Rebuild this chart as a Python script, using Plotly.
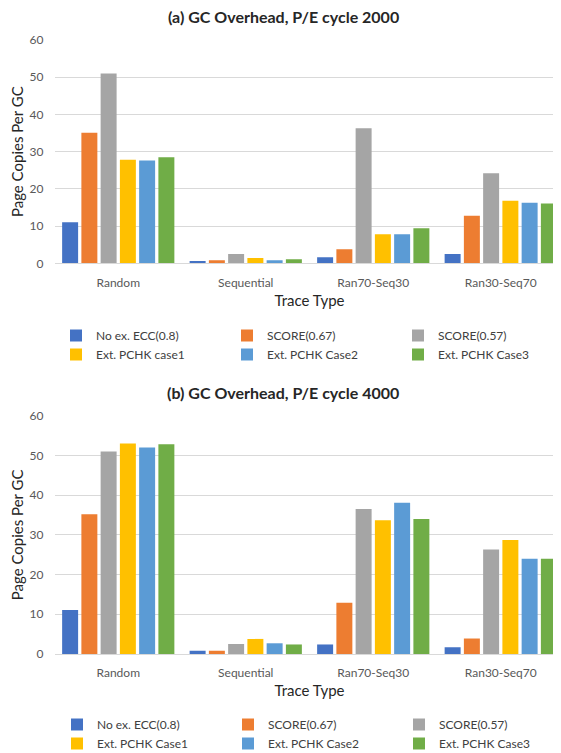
import plotly.graph_objects as go

categories = ["Random", "Sequential", "Ran70-Seq30", "Ran30-Seq70"]

names_a = ["No ex. ECC(0.8)", "SCORE(0.67)", "SCORE(0.57)",
           "Ext. PCHK case1", "Ext. PCHK Case2", "Ext. PCHK Case3"]
names_b = ["No ex. ECC(0.8)", "SCORE(0.67)", "SCORE(0.57)",
           "Ext. PCHK Case1", "Ext. PCHK Case2", "Ext. PCHK Case3"]
colors = ["#4472C4", "#ED7D31", "#A5A5A5", "#FFC000", "#5B9BD5", "#70AD47"]

# (a) P/E cycle 2000
a_no_ecc = [11.0, 0.6, 1.6, 2.5]
a_score067 = [35.1, 0.8, 3.8, 12.8]
a_score057 = [51.0, 2.5, 36.3, 24.2]
a_case1 = [27.8, 1.4, 7.8, 16.8]
a_case2 = [27.6, 0.8, 7.8, 16.3]
a_case3 = [28.5, 1.1, 9.4, 16.1]

# (b) P/E cycle 4000
b_no_ecc = [11.1, 0.8, 2.4, 1.7]
b_score067 = [35.2, 0.8, 12.9, 3.9]
b_score057 = [51.0, 2.5, 36.5, 26.3]
b_case1 = [53.0, 3.8, 33.7, 28.7]
b_case2 = [52.0, 2.7, 38.1, 24.0]
b_case3 = [52.8, 2.4, 34.0, 24.0]

y_ticks = [0, 10, 20, 30, 40, 50, 60]

series_a = [a_no_ecc, a_score067, a_score057, a_case1, a_case2, a_case3]
series_b = [b_no_ecc, b_score067, b_score057, b_case1, b_case2, b_case3]

W, H = 561, 753
OFF = 8  # page body margin offset
FONT = "Lato"
TICK_C = "#595959"
TITLE_C = "#262626"
GRID_C = "#D9D9D9"

fig = go.Figure()
for name, vals, col in zip(names_a, series_a, colors):
    fig.add_trace(go.Bar(x=categories, y=vals, name=name, marker_color=col,
                         marker_line_width=0, xaxis="x", yaxis="y",
                         legend="legend"))
for name, vals, col in zip(names_b, series_b, colors):
    fig.add_trace(go.Bar(x=categories, y=vals, name=name, marker_color=col,
                         marker_line_width=0, xaxis="x2", yaxis="y2",
                         legend="legend2"))

def px(x):
    return (x - OFF) / W

def py(y):
    return (H - (y - OFF)) / H

xdom = [px(54.5), px(564.5)]
xcommon = dict(domain=xdom, range=[-0.5, 3.5], showgrid=False,
               showline=True, linecolor=GRID_C, linewidth=1,
               tickfont=dict(family=FONT, size=12, color=TICK_C),
               ticklabelstandoff=8,
               title=dict(text="Trace Type", standoff=6,
                          font=dict(family=FONT, size=15, color=TITLE_C)))
ycommon = dict(range=[0, 60], tickvals=y_ticks, showgrid=True,
               gridcolor=GRID_C, gridwidth=1, zeroline=False,
               tickfont=dict(family=FONT, size=12, color=TICK_C),
               ticklabelstandoff=10,
               title=dict(text="Page Copies Per GC", standoff=3,
                          font=dict(family=FONT, size=15, color=TITLE_C)))

legend_common = dict(orientation="h", xanchor="left", yanchor="top",
                     entrywidth=126, entrywidthmode="pixels",
                     font=dict(family=FONT, size=12, color="#404040"),
                     bgcolor="rgba(0,0,0,0)", itemwidth=30,
                     traceorder="normal")

fig.update_layout(
    width=W, height=H,
    margin=dict(l=0, r=0, t=0, b=0, autoexpand=False),
    paper_bgcolor="white", plot_bgcolor="white",
    barmode="group", bargap=0.094, bargroupgap=0.17,
    xaxis=dict(anchor="y", **xcommon),
    yaxis=dict(anchor="x", domain=[py(263.3), py(40)], **ycommon),
    xaxis2=dict(anchor="y2", **xcommon),
    yaxis2=dict(anchor="x2", domain=[py(654), py(415.7)], **ycommon),
    legend=dict(x=px(56), y=py(321), **legend_common),
    legend2=dict(x=px(57), y=py(710), **legend_common),
    annotations=[
        dict(text="<b>(a) GC Overhead, P/E cycle 2000</b>", x=px(283),
             y=py(17), xref="paper", yref="paper", showarrow=False,
             xanchor="center", yanchor="middle",
             font=dict(family=FONT, size=16, color=TITLE_C)),
        dict(text="<b>(b) GC Overhead, P/E cycle 4000</b>", x=px(283),
             y=py(392), xref="paper", yref="paper", showarrow=False,
             xanchor="center", yanchor="middle",
             font=dict(family=FONT, size=16, color=TITLE_C)),
    ],
)

fig.write_html("out.html")
